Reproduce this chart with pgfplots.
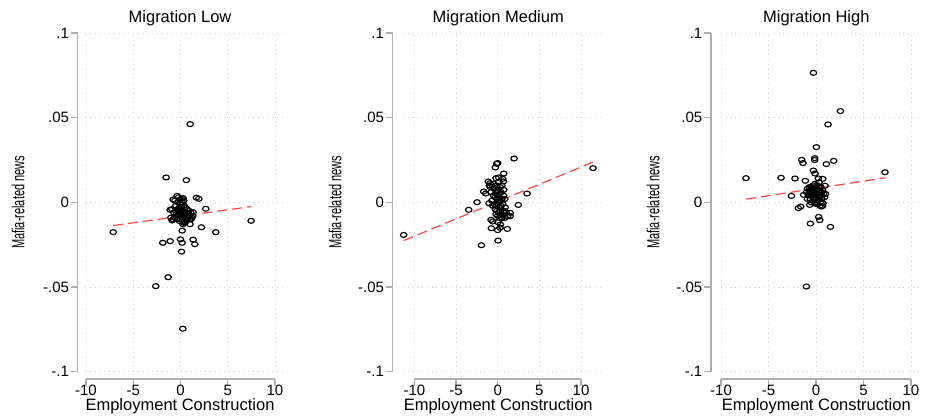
\documentclass[border=0pt]{standalone}
\usepackage{fontspec}
\setmainfont{Liberation Sans}
\usepackage{graphicx}
\usepackage{pgfplots}
\pgfplotsset{compat=1.18}
\definecolor{axgray}{RGB}{175,175,175}
\definecolor{gridgray}{RGB}{205,205,205}
\definecolor{fitred}{RGB}{255,70,70}
\newcommand{\lab}{\fontsize{16.5}{18}\selectfont}
\newcommand{\ylab}{\fontsize{17.5}{19}\selectfont}
\newcommand{\tck}{\fontsize{15}{16}\selectfont}
\pgfplotsset{
 panel/.style={
  scale only axis, height=338.7pt, clip=false,
  ymin=-0.1, ymax=0.1,
  axis lines*=left,
  x axis line style={draw=none},
  y axis line style={axgray, line width=1.3pt},
  axis x line shift=7.3pt,
  xtick={-10,-5,0,5,10}, xticklabels={-10,-5,0,5,10},
  ytick={-0.1,-0.05,0,0.05,0.1}, yticklabels={-.1,-.05,0,.05,.1},
  tick align=outside, major tick length=7pt,
  tick style={axgray, line width=1.3pt},
  grid=major, grid style={gridgray, line width=0.8pt, dash pattern=on 0.8pt off 4pt},
  ticklabel style={font=\tck, text=black},
  xticklabel style={inner sep=0.5pt, yshift=1.5pt},
  yticklabel style={inner sep=1.5pt},
  xlabel={Employment Construction},
  ylabel={\scalebox{0.63}[1]{Mafia-related news}},
  xlabel style={font=\lab},
  ylabel style={font=\ylab},
  title style={font=\lab},
  scaled ticks=false,
 },
 dots/.style={only marks, mark=o, mark size=2.7pt, mark options={black, line width=1.15pt, xscale=1.2, yscale=0.92}},
 fit/.style={no marks, fitred, line width=1.2pt, dash pattern=on 10pt off 5pt},
}
\begin{document}
\begin{tikzpicture}
\useasboundingbox (0,0) rectangle (925pt,416pt);
% ---------------- Panel 1 ----------------
\begin{axis}[panel, at={(85pt,44.3pt)}, anchor=south west, width=200.9pt,
  xmin=-10.1, xmax=11.16, axis y line shift=7.3pt,
  title={Migration Low},
  title style={at={(axis description cs:0.473,1.027)}, anchor=center},
  xlabel style={at={(axis description cs:0.473,-0.101)}, anchor=center},
  ylabel style={at={(axis description cs:-0.333,0.5)}, anchor=center}]
\addplot[dots] table {
x y
1.03 0.0462
-1.52 0.0147
0.63 0.0131
1.69 0.0028
1.94 0.0021
2.68 -0.0038
7.48 -0.0109
-7.12 -0.0176
2.22 -0.0147
3.74 -0.0176
0.18 -0.0167
1.01 -0.0129
0.27 -0.0129
-1.87 -0.0239
-1.09 -0.0229
0.00 -0.0218
0.18 -0.0239
1.34 -0.0220
1.52 -0.0247
0.11 -0.0291
-1.30 -0.0442
-2.61 -0.0495
0.25 -0.0746
-0.35 0.0038
-0.77 0.0017
0.28 0.0025
0.35 0.0011
-0.07 0.0015
1.34 -0.0058
-1.09 -0.0044
-0.88 -0.0107
1.16 -0.0098
-0.9 -0.004
-0.7 -0.006
-0.5 -0.002
-0.3 -0.004
-0.1 -0.006
0.1 -0.003
0.3 -0.005
0.5 -0.007
0.7 -0.004
0.9 -0.008
1.1 -0.006
-0.6 -0.009
-0.4 -0.010
-0.2 -0.008
0.0 -0.010
0.2 -0.009
0.4 -0.011
0.6 -0.010
0.8 -0.009
1.0 -0.010
-0.8 -0.010
-0.3 0.000
0.0 -0.001
0.2 0.000
0.4 -0.002
-0.5 -0.005
-0.1 -0.003
0.1 -0.007
0.3 -0.008
0.6 -0.006
-0.2 -0.005
0.0 -0.004
0.2 -0.006
0.5 -0.003
-0.4 -0.007
0.7 -0.008
1.2 -0.009
-0.6 0.001
0.1 0.002
-0.2 0.003
0.3 -0.012
-0.1 -0.011
0.5 -0.012
0.9 -0.005
1.3 -0.008
-1.0 -0.009
};
\addplot[fit] table {
x y
-7.12 -0.0137
7.48 -0.0025
};
\draw[axgray, line width=1.3pt] ([yshift=-7.3pt]axis cs:-10,-0.1) -- ([yshift=-7.3pt]axis cs:10,-0.1);
\end{axis}
% ---------------- Panel 2 ----------------
\begin{axis}[panel, at={(398pt,44.3pt)}, anchor=south west, width=205pt,
  xmin=-11.96, xmax=12.63, axis y line shift=5.3pt,
  title={Migration Medium},
  title style={at={(axis description cs:0.489,1.027)}, anchor=center},
  xlabel style={at={(axis description cs:0.489,-0.101)}, anchor=center},
  ylabel style={at={(axis description cs:-0.307,0.5)}, anchor=center}]
\addplot[dots] table {
x y
-11.28 -0.0192
11.43 0.0202
1.96 0.0259
0.00 0.0232
-0.12 0.0228
-0.28 0.0206
0.72 0.0170
-0.20 0.0143
0.12 0.0147
0.60 0.0139
0.68 0.0123
-1.12 0.0123
-0.92 0.0113
-1.68 0.0064
-1.44 0.0052
0.72 0.0074
3.52 0.0052
-2.48 0.0001
2.47 -0.0015
-3.48 -0.0044
0.85 0.0020
-1.04 -0.0005
1.50 -0.0062
1.20 -0.0081
1.50 -0.0081
0.90 -0.0091
0.50 -0.0095
-0.80 -0.0103
-0.60 -0.0113
0.04 -0.0117
0.32 -0.0131
-0.76 -0.0153
0.28 -0.0150
0.00 -0.0164
1.15 -0.0157
-1.96 -0.0253
0.04 -0.0226
-0.6 0.009
-0.4 0.008
-0.2 0.006
0.0 0.007
0.2 0.005
0.4 0.006
-0.5 0.004
-0.3 0.003
-0.1 0.002
0.1 0.003
0.3 0.001
0.5 0.002
0.7 0.004
-0.7 0.001
-0.4 -0.001
-0.2 -0.002
0.0 -0.001
0.2 -0.003
0.4 -0.002
0.6 -0.001
-0.3 -0.004
-0.1 -0.005
0.1 -0.006
0.3 -0.005
0.5 -0.007
0.7 -0.006
0.0 -0.008
0.2 -0.009
-0.2 -0.007
0.4 -0.009
0.6 -0.008
0.8 -0.005
-0.8 0.006
-0.9 0.009
-1.0 0.010
-0.5 0.011
0.3 0.009
0.5 0.010
0.1 0.012
-0.1 0.010
0.0 0.004
0.2 0.000
-0.6 -0.002
0.9 -0.003
1.0 -0.006
};
\addplot[fit] table {
x y
-11.28 -0.0226
11.43 0.0238
};
\draw[axgray, line width=1.3pt] ([yshift=-7.3pt]axis cs:-10,-0.1) -- ([yshift=-7.3pt]axis cs:10,-0.1);
\end{axis}
% ---------------- Panel 3 ----------------
\begin{axis}[panel, at={(721pt,44.3pt)}, anchor=south west, width=201pt,
  xmin=-10, xmax=11.16, axis y line shift=10pt,
  title={Migration High},
  title style={at={(axis description cs:0.474,1.027)}, anchor=center},
  xlabel style={at={(axis description cs:0.474,-0.101)}, anchor=center},
  ylabel style={at={(axis description cs:-0.338,0.5)}, anchor=center}]
\addplot[dots] table {
x y
-0.27 0.0765
2.57 0.0539
1.27 0.0460
0.04 0.0326
-1.50 0.0251
-1.37 0.0232
-0.14 0.0261
-0.14 0.0250
1.86 0.0245
1.09 0.0226
-0.27 0.0188
-0.10 0.0170
7.26 0.0178
-7.37 0.0143
-3.68 0.0145
-2.21 0.0141
0.25 0.0141
0.71 0.0139
0.32 0.0119
-1.12 0.0127
0.95 0.0098
-2.59 0.0038
-1.85 -0.0034
-1.61 -0.0025
-0.59 -0.0125
0.28 -0.0086
0.39 -0.0105
1.52 -0.0145
-1.01 -0.0497
-0.66 -0.0015
0.57 -0.0025
0.74 -0.0005
-1.30 0.0044
-0.9 0.008
-0.7 0.006
-0.5 0.009
-0.3 0.007
-0.1 0.005
0.1 0.008
0.3 0.006
0.5 0.004
0.7 0.007
-0.8 0.004
-0.6 0.002
-0.4 0.004
-0.2 0.002
0.0 0.003
0.2 0.001
0.4 0.003
0.6 0.002
0.8 0.005
-1.0 0.006
-0.3 0.010
0.1 0.010
0.3 0.009
-0.5 0.000
-0.1 0.000
0.2 -0.001
0.5 0.000
-0.2 0.006
0.0 0.007
0.2 0.005
0.4 0.007
-0.4 0.008
0.6 0.006
-0.6 0.005
0.9 0.003
1.0 0.005
-0.3 0.003
0.1 0.004
0.3 0.002
-0.7 0.009
-0.1 0.011
0.5 0.009
0.0 -0.001
-0.9 0.002
0.7 -0.002
0.4 -0.002
};
\addplot[fit] table {
x y
-7.37 0.0019
7.30 0.0145
};
\draw[axgray, line width=1.3pt] ([yshift=-7.3pt]axis cs:-10,-0.1) -- ([yshift=-7.3pt]axis cs:10,-0.1);
\end{axis}
\end{tikzpicture}
\end{document}
